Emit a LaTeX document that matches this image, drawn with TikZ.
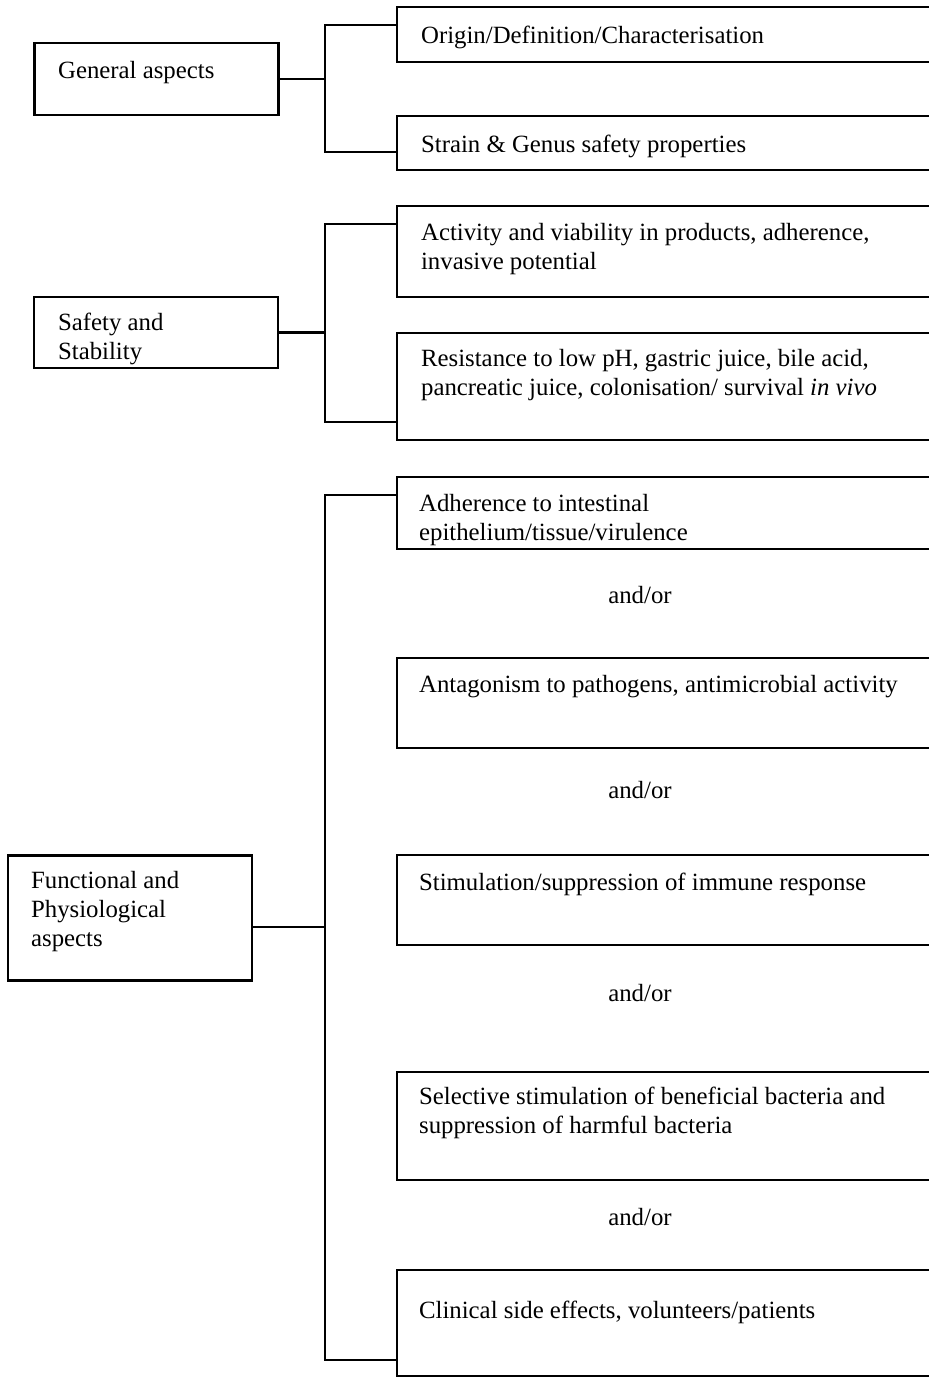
\documentclass[tikz,border=0pt]{standalone}
\usepackage{fontspec}
\setmainfont{Liberation Serif}
\begin{document}
\begin{tikzpicture}[x=0.5pt,y=-0.5pt,line width=1.1pt]
\tikzstyle{bx}=[draw, shape=rectangle, inner sep=0pt, outer sep=0pt, minimum width=281.5pt]
\tikzstyle{lbx}=[draw, shape=rectangle, inner sep=0pt, outer sep=0pt, minimum width=122pt]
\tikzstyle{txt}=[draw=none, inner sep=0pt, anchor=base west, align=left, font=\fontsize{12.4pt}{14.5pt}\selectfont]
\tikzstyle{andor}=[draw=none, inner sep=0pt, anchor=base, font=\fontsize{12.4pt}{14.5pt}\selectfont]
\useasboundingbox (0,0) rectangle (929,1377);
%
\node[lbx, minimum height=36pt](gen) at (156.5,79){};
\node[lbx, minimum height=35.5pt](safe) at (156,332.5){};
\node[lbx, minimum height=62.5pt](func) at (130,918){};
%
\node[bx, minimum height=27.5pt](orig) at (678.5,34.5){};
\node[bx, minimum height=27pt](strain) at (678.5,143){};
\node[bx, minimum height=45.5pt](activ) at (678.5,251.5){};
\node[bx, minimum height=53.5pt](resist) at (678.5,386.5){};
\node[bx, minimum height=36pt](adher) at (678.5,513){};
\node[bx, minimum height=45pt](antag) at (678.5,703){};
\node[bx, minimum height=45pt](stim) at (678.5,900){};
\node[bx, minimum height=54pt](select) at (678.5,1126){};
\node[bx, minimum height=53pt](clin) at (678.5,1323){};
%
\node[txt](gentxt) at (57,78){General aspects};
\node[txt](safetxt) at (57,359){Safety and\\Stability};
\node[txt](functxt) at (30,946){Functional and\\Physiological\\aspects};
%
\node[txt](origtxt) at (420,43){Origin/Definition/Characterisation};
\node[txt](straintxt) at (420,152){Strain \& Genus safety properties};
\node[txt](activtxt) at (420,269){Activity and viability in products, adherence,\\invasive potential};
\node[txt](resisttxt) at (420,395){Resistance to low pH, gastric juice, bile acid,\\pancreatic juice, colonisation/ survival \textit{in vivo}};
\node[txt](adhertxt) at (418,540){Adherence to intestinal\\epithelium/tissue/virulence};
\node[txt](antagtxt) at (418,692){Antagonism to pathogens, antimicrobial activity};
\node[txt](stimtxt) at (418,890){Stimulation/suppression of immune response};
\node[txt](selecttxt) at (418,1133){Selective stimulation of beneficial bacteria and\\suppression of harmful bacteria};
\node[txt](clintxt) at (418,1318){Clinical side effects, volunteers/patients};
%
\node[andor](ao1) at (640,603){and/or};
\node[andor](ao2) at (640,798){and/or};
\node[andor](ao3) at (640,1001){and/or};
\node[andor](ao4) at (640,1225){and/or};
%
\coordinate (j1t) at (325,25);
\coordinate (j1b) at (325,152);
\coordinate (j2t) at (325,224);
\coordinate (j2b) at (325,422);
\coordinate (j3t) at (325,495);
\coordinate (j3b) at (325,1360);
\coordinate (j3m) at (325,927);
%
\draw (gen.east) -- (gen.east -| j1t);
\draw (orig.west |- j1t) -- (j1t) -- (j1b) -- (strain.west |- j1b);
\draw (safe.east) -- (safe.east -| j2t);
\draw (activ.west |- j2t) -- (j2t) -- (j2b) -- (resist.west |- j2b);
\draw (func.east |- j3m) -- (j3m);
\draw (adher.west |- j3t) -- (j3t) -- (j3b) -- (clin.west |- j3b);
%
\end{tikzpicture}
\end{document}
